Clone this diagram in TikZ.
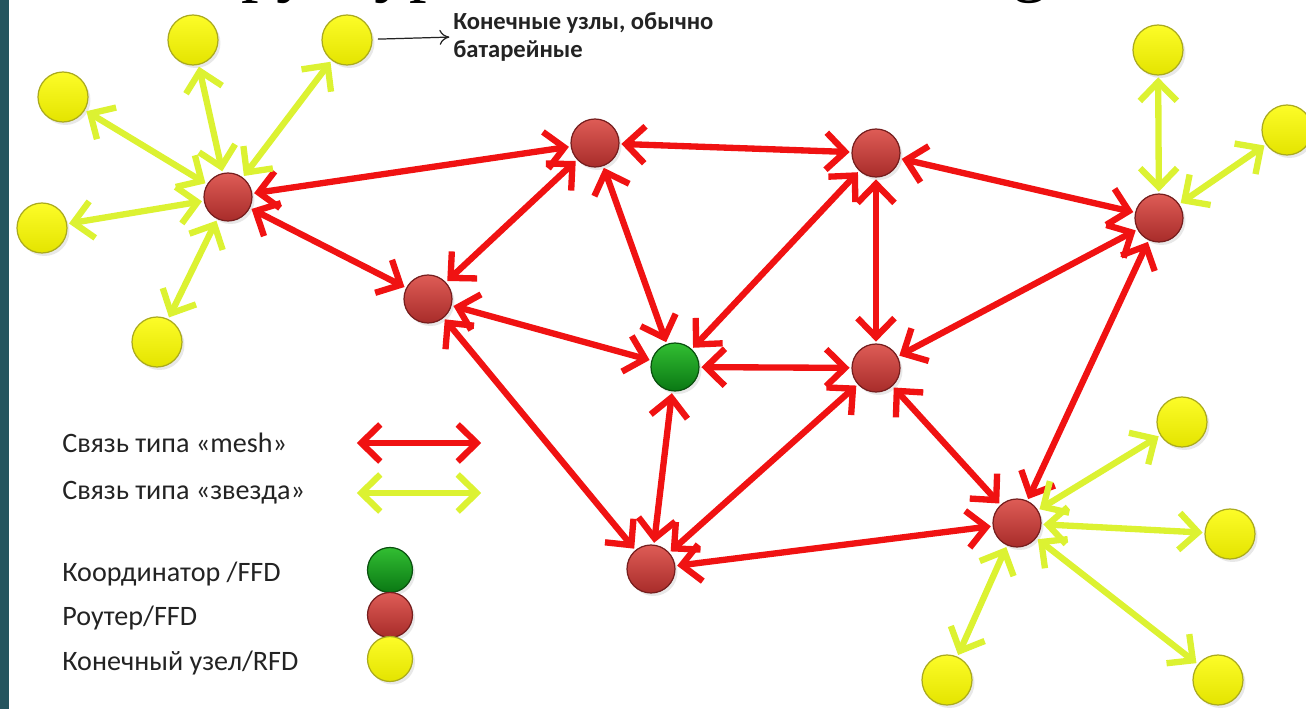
\documentclass[tikz,border=0pt]{standalone}
\usepackage{fontspec}
\setmainfont{Carlito}
\newfontfamily\titre{Liberation Serif}
\usetikzlibrary{arrows.meta,shadows}

\definecolor{bande}{RGB}{36,84,94}
\definecolor{rouge}{RGB}{240,18,18}
\definecolor{citron}{RGB}{220,242,50}
\definecolor{texte}{RGB}{35,35,35}
\definecolor{rougeclair}{RGB}{222,92,86}
\definecolor{rougesombre}{RGB}{168,44,42}
\definecolor{rougebord}{RGB}{118,30,30}
\definecolor{vertclair}{RGB}{50,190,50}
\definecolor{vertsombre}{RGB}{10,120,20}
\definecolor{vertbord}{RGB}{10,80,15}
\definecolor{jauneclair}{RGB}{252,252,40}
\definecolor{jaunesombre}{RGB}{228,228,0}
\definecolor{jaunebord}{RGB}{170,170,30}

\begin{document}
\begin{tikzpicture}[x=0.02cm, y=-0.02cm,
  noeud/.style={circle, minimum size=0.96cm, inner sep=0pt, line width=0.7pt,
    drop shadow={opacity=0.18, shadow xshift=0.5mm, shadow yshift=-0.6mm}},
  routeur/.style={noeud, draw=rougebord, top color=rougeclair, bottom color=rougesombre},
  coordo/.style={noeud, draw=vertbord, top color=vertclair, bottom color=vertsombre},
  terminal/.style={noeud, minimum size=1cm, draw=jaunebord, top color=jauneclair, bottom color=jaunesombre},
  maille/.style={draw=rouge, line width=3.6pt,
    {Straight Barb[length=3.8mm,width=7.4mm]}-{Straight Barb[length=3.8mm,width=7.4mm]},
    shorten <=1pt, shorten >=1pt},
  etoile/.style={maille, draw=citron},
  legende/.style={anchor=west, inner sep=0pt, text=texte, font=\fontsize{16}{19}\selectfont}]

  \useasboundingbox (0,0) rectangle (1306,709);

  % Bande a gauche
  \fill[bande] (0,0) rectangle (9,709);

  % Titre (coupe en haut)
  \node[anchor=base west, inner sep=0pt, font=\titre\fontsize{40}{48}\selectfont] (titre1) at (164,-11) {Структура};
  \node[anchor=base west, inner sep=0pt, font=\titre\fontsize{40}{48}\selectfont] (titre2) at (950,-11) {ZigBee};

  % Routeurs et coordinateur
  \node[routeur] (r1) at (228,197) {};
  \node[routeur] (r2) at (428,299) {};
  \node[routeur] (r3) at (595,143) {};
  \node[routeur] (r4) at (876,153) {};
  \node[routeur] (r5) at (1159,218) {};
  \node[routeur] (r6) at (876,368) {};
  \node[routeur] (r7) at (651,569) {};
  \node[routeur] (r8) at (1017,523) {};
  \node[coordo] (c) at (675,367) {};

  % Noeuds terminaux
  \node[terminal] (y1) at (63,97) {};
  \node[terminal] (y2) at (193,40) {};
  \node[terminal] (y3) at (347,40) {};
  \node[terminal] (y4) at (42,228) {};
  \node[terminal] (y5) at (157,342) {};
  \node[terminal] (y6) at (1158,50) {};
  \node[terminal] (y7) at (1287,130) {};
  \node[terminal] (y8) at (1182,422) {};
  \node[terminal] (y9) at (1230,534) {};
  \node[terminal] (y10) at (1218,680) {};
  \node[terminal] (y11) at (947,680) {};

  % Liaisons mesh
  \draw[maille] (r1) -- (r3);
  \draw[maille] (r1) -- (r2);
  \draw[maille] (r2) -- (r3);
  \draw[maille] (r2) -- (c);
  \draw[maille] (r2) -- (r7);
  \draw[maille] (r3) -- (c);
  \draw[maille] (r3) -- (r4);
  \draw[maille] (r4) -- (c);
  \draw[maille] (r4) -- (r6);
  \draw[maille] (r4) -- (r5);
  \draw[maille] (r5) -- (r6);
  \draw[maille] (r5) -- (r8);
  \draw[maille] (c) -- (r6);
  \draw[maille] (c) -- (r7);
  \draw[maille] (r6) -- (r7);
  \draw[maille] (r6) -- (r8);
  \draw[maille] (r7) -- (r8);

  % Liaisons etoile
  \draw[etoile] (r1) -- (y1);
  \draw[etoile] (r1) -- (y2);
  \draw[etoile] (r1) -- (y3);
  \draw[etoile] (r1) -- (y4);
  \draw[etoile] (r1) -- (y5);
  \draw[etoile] (r5) -- (y6);
  \draw[etoile] (r5) -- (y7);
  \draw[etoile] (r8) -- (y8);
  \draw[etoile] (r8) -- (y9);
  \draw[etoile] (r8) -- (y10);
  \draw[etoile] (r8) -- (y11);

  % Annotation
  \node[anchor=west, align=left, inner sep=0pt, text=texte,
    font=\bfseries\fontsize{14}{16}\selectfont] (note) at (453,37)
    {Конечные узлы, обычно\\батарейные};
  \draw[-{To[length=2mm,width=3mm]}, draw=texte, line width=0.7pt, shorten <=3pt, shorten >=2pt]
    (y3) -- (note.west);

  % Legende
  \node[legende] (l1) at (62,443) {Связь типа «mesh»};
  \node[legende] (l2) at (62,493) {Связь типа «звезда»};
  \node[legende] (l3) at (62,574) {Координатор /FFD};
  \node[legende] (l4) at (62,618) {Роутер/FFD};
  \node[legende] (l5) at (62,663) {Конечный узел/RFD};
  \coordinate (m0) at (355,443);
  \coordinate (m1) at (483,443);
  \coordinate (s0) at (355,493);
  \coordinate (s1) at (483,493);
  \draw[maille] (m0) -- (m1);
  \draw[etoile] (s0) -- (s1);
  \node[coordo, minimum size=0.9cm] (lc) at (390,570) {};
  \node[routeur, minimum size=0.9cm] (lr) at (390,615) {};
  \node[terminal, minimum size=0.9cm] (lt) at (390,659) {};

\end{tikzpicture}
\end{document}
